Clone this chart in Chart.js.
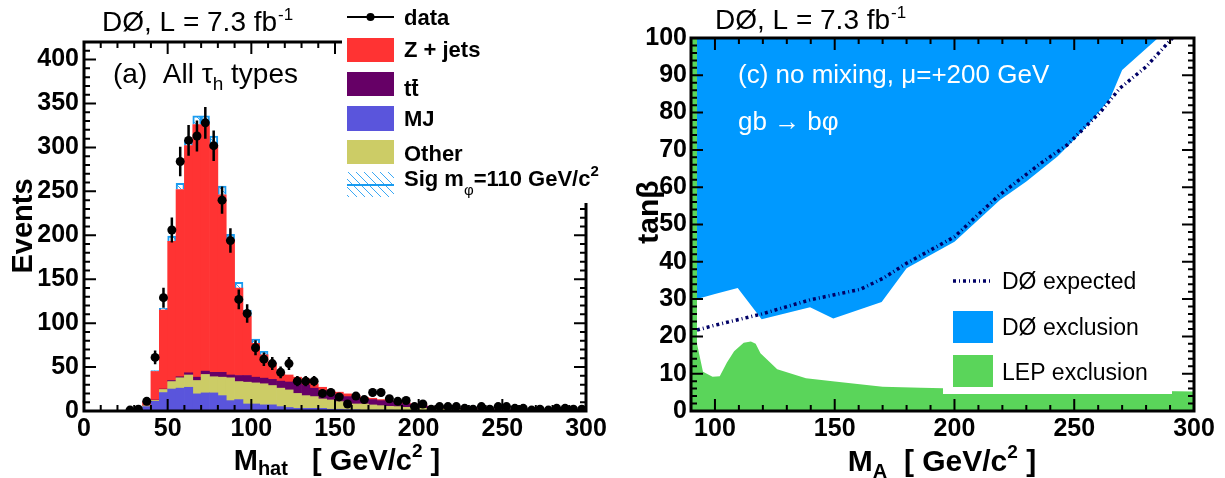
<!DOCTYPE html>
<html><head><meta charset="utf-8">
<script src="https://cdn.jsdelivr.net/npm/chart.js@4.4.0/dist/chart.umd.min.js"></script>
<style>
html,body{margin:0;padding:0;background:#fff;width:1225px;height:478px;overflow:hidden}
canvas{position:absolute;top:0}
#c1{left:0}
#c2{left:612px}
</style></head><body>
<canvas id="c1" width="612" height="478"></canvas>
<canvas id="c2" width="613" height="478"></canvas>
<script>
// ================= LEFT PANEL DATA (M_hat histogram, 5 GeV bins) =================
const binCenters = [2.5,7.5,12.5,17.5,22.5,27.5,32.5,37.5,42.5,47.5,52.5,57.5,62.5,67.5,72.5,77.5,82.5,87.5,92.5,97.5,
  102.5,107.5,112.5,117.5,122.5,127.5,132.5,137.5,142.5,147.5,152.5,157.5,162.5,167.5,172.5,177.5,182.5,187.5,192.5,197.5,
  202.5,207.5,212.5,217.5,222.5,227.5,232.5,237.5,242.5,247.5,252.5,257.5,262.5,267.5,272.5,277.5,282.5,287.5,292.5,297.5];
const mjEvents = [null,null,null,null,null,null,null,5,11,21,25,26,27,19.5,20.6,20.6,17.5,11.8,13,8,
  8,7,7,5,4,3,3,3,3,2,2,1.5,1.5,1,1,1,1,0.8,0.8,0.6,
  0.5,0.5,0.4,0.4,0.3,0.3,0.3,0.2,0.2,0.2,0.2,0.1,0.1,0.1,0.1,0.1,0.1,0.1,0.1,0.1];
const otherEvents = [null,null,null,null,null,null,null,1,1,3.5,8.5,11.8,14,15.2,21,18.4,21,26,20.5,24.8,
  24,24,22,21,20,17,14.5,13.4,10.7,10.6,8.7,7.7,6.5,7,5.9,5.1,4.3,4.2,3.4,2.8,
  2.5,2.2,1.9,1.6,1.5,1.3,1.1,1.0,0.9,0.8,0.7,0.7,0.6,0.5,0.5,0.4,0.4,0.3,0.3,0.3];
const ttbarEvents = [null,null,null,null,null,null,null,0,0.5,0.5,1.2,1.2,2.5,3.8,3.8,5,5.5,3.2,6.9,7.6,
  6.5,6.4,7,8,9,12,12.2,9.6,9.3,7.4,7.6,7.2,6.9,5.7,6.1,5.7,5.4,4.2,3.8,3.5,
  3.1,2.3,1.9,1.6,1.4,1.3,1.2,1.1,1.0,0.9,0.8,0.7,0.7,0.7,0.6,0.6,0.5,0.5,0.4,0.4];
const zjetsEvents = [null,null,null,null,null,null,null,4,32.5,90,158.3,213,258.5,287.5,280.6,258,202,154,99.6,67.6,
  38.5,26.6,18,9,8,6.5,6.9,5,4,3,3.1,3.1,2.6,1.9,1.5,1.2,1.1,1.5,1.2,1.1,
  0.8,0.3,0.4,0.4,0.4,0.3,0.3,0.3,0.3,0.3,0.3,0.3,0.2,0.2,0.2,0.2,0.2,0.2,0.2,0.2];
const signalEvents = [null,null,null,null,null,null,null,null,1,2,6,7,6,10,10,11,10,6,6.5,7,
  5,4,1,null,null,null,null,null,null,null,null,null,null,null,null,null,null,null,null,null,
  null,null,null,null,null,null,null,null,null,null,null,null,null,null,null,null,null,null,null,null];
const dataEvents = [null,null,null,null,null,1,2,11,61,129,206,284,308,313,328,302,240,194,127,111,
  72,59,54,44,54,34,34,34,20,21,16,8,17,13,21,21,14,11,12,5,
  8,2,5,5,5,3,2,5,2,5,5,3,3,1,2,1,3,3,2,2];
const leftXTicks = [0,50,100,150,200,250,300];
const leftYTicks = [0,50,100,150,200,250,300,350,400];

// ================= RIGHT PANEL DATA (M_A vs tan beta) =================
const obsMA   = [92.5,100,109.5,119.5,139.7,149.4,169.6,180,200,219,230,243,250,257,265,270,285];
const obsTanb = [30,31.4,33,24.6,27.8,24.8,29.2,38.3,45.4,56.6,61.5,68.2,72.7,77.6,83.8,91.4,100];
const expMA   = [92.5,100,119.5,139.7,149.4,160.6,170.3,180,200,218,236,247,261,269,280,291];
const expTanb = [21.7,23,26,29.8,31.1,32.6,35.6,39.6,46.7,57.5,66.4,71.3,80.2,86.5,92.3,100];
const lepMA   = [90,92.5,92.5,95,99,102,105,108,112,115,117,119,126,138,150,170,186,200,250,300];
const lepTanb = [100,100,18,10.5,9.2,9.3,13,16,18.3,18.6,18,15.5,11.2,8.8,7.9,6.5,6.2,6,5.7,5.2];
const rightXTicks = [100,150,200,250,300];
const rightYTicks = [0,10,20,30,40,50,60,70,80,90,100];

// ================= helpers =================
const FONT = "'Liberation Sans', Arial, Helvetica, sans-serif";
const fnt = (size, weight) => `${weight || 'normal'} ${size}px ${FONT}`;
const toXY = (xs, ys) => xs.map((x, i) => ({x: x, y: ys[i]}));
const EXP_DASH = [3, 3, 1, 3];

function richText(ctx, x, y, parts, align) {
  let total = 0;
  parts.forEach(p => { ctx.font = fnt(p.size, p.weight); p.w = ctx.measureText(p.t).width; total += p.w; });
  let cx = align === 'center' ? x - total / 2 : x;
  ctx.textAlign = 'left';
  ctx.textBaseline = 'alphabetic';
  parts.forEach(p => { ctx.font = fnt(p.size, p.weight); ctx.fillText(p.t, cx, y + (p.dy || 0)); cx += p.w; });
}

function header(ctx, x, base) {
  ctx.fillStyle = '#000';
  ctx.textAlign = 'left'; ctx.textBaseline = 'alphabetic';
  ctx.font = fnt(28);
  const s = 'DØ, L = 7.3 fb';
  ctx.fillText(s, x, base);
  const w = ctx.measureText(s).width;
  ctx.font = fnt(17);
  ctx.fillText('-1', x + w + 1, base - 11);
}

function frameTicks(chart, o) {
  const {ctx, chartArea: a, scales: {x, y}} = chart;
  ctx.save();
  ctx.strokeStyle = '#000';
  ctx.lineWidth = 2;
  ctx.beginPath();
  for (let v = o.x0; v <= x.max + 1e-9; v += o.xMinor) {
    const r = v / o.xMajor;
    const L = Math.abs(r - Math.round(r)) < 1e-6 ? o.major : o.minor;
    const px = x.getPixelForValue(v);
    ctx.moveTo(px, a.bottom); ctx.lineTo(px, a.bottom - L);
    ctx.moveTo(px, a.top); ctx.lineTo(px, a.top + L);
  }
  for (let v = o.y0; v <= y.max + 1e-9; v += o.yMinor) {
    const r = v / o.yMajor;
    const L = Math.abs(r - Math.round(r)) < 1e-6 ? o.major : o.minor;
    const py = y.getPixelForValue(v);
    ctx.moveTo(a.left, py); ctx.lineTo(a.left + L, py);
    ctx.moveTo(a.right, py); ctx.lineTo(a.right - L, py);
  }
  ctx.stroke();
  ctx.lineWidth = 3;
  ctx.strokeRect(a.left, a.top, a.right - a.left, a.bottom - a.top);
  ctx.restore();
}

const tickFont = {family: FONT, size: 25, weight: 'bold'};

// ================= LEFT CHART =================
const c1 = document.getElementById('c1');
const g1 = c1.getContext('2d');
const hatchCanvas = document.createElement('canvas');
hatchCanvas.width = 8; hatchCanvas.height = 8;
(function () {
  const h = hatchCanvas.getContext('2d');
  h.fillStyle = '#fff'; h.fillRect(0, 0, 8, 8);
  h.strokeStyle = '#3aa8f5'; h.lineWidth = 1;
  h.beginPath();
  h.moveTo(-4, -4); h.lineTo(12, 12);
  h.moveTo(-4, 4); h.lineTo(4, 12);
  h.moveTo(4, -4); h.lineTo(12, 4);
  h.stroke();
})();
const hatch = g1.createPattern(hatchCanvas, 'repeat');

const barDs = (label, arr, color, extra) => Object.assign({
  type: 'bar', label: label, data: toXY(binCenters, arr), backgroundColor: color,
  borderWidth: 0, stack: 'mc', barPercentage: 1, categoryPercentage: 1
}, extra || {});

const leftDeco = {
  id: 'leftDeco',
  afterDatasetsDraw(chart) {
    const {ctx, scales: {x, y}} = chart;
    ctx.save();
    ctx.strokeStyle = '#000'; ctx.lineWidth = 2.5;
    ctx.beginPath();
    binCenters.forEach((c, i) => {
      const v = dataEvents[i];
      if (v === null) return;
      const e = Math.sqrt(v);
      const px = x.getPixelForValue(c);
      ctx.moveTo(px, y.getPixelForValue(Math.max(v - e, 0)));
      ctx.lineTo(px, y.getPixelForValue(v + e));
    });
    ctx.stroke();
    ctx.restore();
  },
  afterDraw(chart) {
    const ctx = chart.ctx;
    frameTicks(chart, {x0: 0, xMinor: 10, xMajor: 50, y0: 0, yMinor: 10, yMajor: 50, major: 12, minor: 6});
    ctx.save();
    // legend box
    ctx.fillStyle = '#fff';
    ctx.fillRect(342, 0, 270, 203);
    const sx = 347, sw = 47, tx = 404;
    // data
    ctx.strokeStyle = '#000'; ctx.lineWidth = 2;
    ctx.beginPath(); ctx.moveTo(sx, 17); ctx.lineTo(sx + sw, 17); ctx.stroke();
    ctx.fillStyle = '#000'; ctx.beginPath(); ctx.arc(sx + sw / 2, 17, 4, 0, Math.PI * 2); ctx.fill();
    // boxes
    ctx.fillStyle = '#ff3333'; ctx.fillRect(sx, 38, sw, 24);
    ctx.fillStyle = '#660066'; ctx.fillRect(sx, 72, sw, 24);
    ctx.fillStyle = '#5a55dc'; ctx.fillRect(sx, 106, sw, 25);
    ctx.fillStyle = '#cccc66'; ctx.fillRect(sx, 140, sw, 24);
    ctx.fillStyle = hatch; ctx.fillRect(sx, 172, sw, 25);
    ctx.strokeStyle = '#1a9cf0'; ctx.lineWidth = 2;
    ctx.beginPath(); ctx.moveTo(sx, 185); ctx.lineTo(sx + sw, 185); ctx.stroke();
    // legend texts
    ctx.fillStyle = '#000'; ctx.textAlign = 'left'; ctx.textBaseline = 'alphabetic';
    ctx.font = fnt(22, 'bold');
    ctx.fillText('data', tx, 25);
    ctx.fillText('Z + jets', tx, 57);
    ctx.fillText('tt', tx, 96);
    const wt = ctx.measureText('t').width;
    ctx.lineWidth = 2; ctx.strokeStyle = '#000';
    ctx.beginPath(); ctx.moveTo(tx + wt + 1, 80); ctx.lineTo(tx + 2 * wt - 1, 80); ctx.stroke();
    ctx.fillText('MJ', tx, 126);
    ctx.fillText('Other', tx, 161);
    richText(ctx, tx, 186, [
      {t: 'Sig m', size: 22, weight: 'bold'},
      {t: 'φ', size: 15, dy: 9},
      {t: '=110 GeV/c', size: 22, weight: 'bold'},
      {t: '2', size: 15, weight: 'bold', dy: -10},
    ]);
    // header and annotation
    header(ctx, 102, 31);
    richText(ctx, 113, 83, [
      {t: '(a)  All ', size: 28},
      {t: 'τ', size: 28},
      {t: 'h', size: 19, dy: 7},
      {t: ' types', size: 28},
    ]);
    // axis titles
    ctx.save();
    ctx.translate(24, 226); ctx.rotate(-Math.PI / 2);
    ctx.font = fnt(29, 'bold'); ctx.textAlign = 'center'; ctx.textBaseline = 'middle';
    ctx.fillText('Events', 0, 0);
    ctx.restore();
    richText(ctx, 337, 470, [
      {t: 'M', size: 29, weight: 'bold'},
      {t: 'hat', size: 20, weight: 'bold', dy: 5},
      {t: '   [ GeV/c', size: 29, weight: 'bold'},
      {t: '2', size: 19, weight: 'bold', dy: -13},
      {t: ' ]', size: 29, weight: 'bold'},
    ], 'center');
    ctx.restore();
  }
};

new Chart(c1, {
  type: 'bar',
  data: {
    datasets: [
      {type: 'scatter', label: 'data', data: toXY(binCenters, dataEvents).filter(p => p.y !== null),
       pointRadius: 4.5, pointBackgroundColor: '#000', pointBorderWidth: 0, showLine: false, stack: 'data', order: -1},
      barDs('MJ', mjEvents, '#5a55dc'),
      barDs('Other', otherEvents, '#cccc66'),
      barDs('tt', ttbarEvents, '#660066'),
      barDs('Z + jets', zjetsEvents, '#ff3333'),
      barDs('Sig', signalEvents, hatch, {borderWidth: 2, borderColor: '#1a9cf0'}),
    ]
  },
  options: {
    responsive: false, animation: false, devicePixelRatio: 1, events: [],
    layout: {padding: {top: 42, right: 26, left: 0, bottom: 0}},
    plugins: {legend: {display: false}, tooltip: {enabled: false}},
    scales: {
      x: {type: 'linear', min: 0, max: 300, stacked: true, offset: false,
          grid: {display: false, drawTicks: false}, border: {display: false},
          ticks: {font: tickFont, color: '#000', padding: 3, maxRotation: 0, autoSkip: false},
          afterBuildTicks: s => { s.ticks = leftXTicks.map(v => ({value: v})); },
          afterFit: s => { s.height = 67; }},
      y: {type: 'linear', min: 0, max: 420, stacked: true,
          grid: {display: false, drawTicks: false}, border: {display: false},
          ticks: {font: tickFont, color: '#000', padding: 5, autoSkip: false},
          afterBuildTicks: s => { s.ticks = leftYTicks.map(v => ({value: v})); },
          afterFit: s => { s.width = 84; }}
    }
  },
  plugins: [leftDeco]
});

// ================= RIGHT CHART =================
const c2 = document.getElementById('c2');
const rightDeco = {
  id: 'rightDeco',
  afterDraw(chart) {
    const ctx = chart.ctx;
    frameTicks(chart, {x0: 90, xMinor: 10, xMajor: 50, y0: 0, yMinor: 2, yMajor: 10, major: 12, minor: 6});
    ctx.save();
    // legend box
    ctx.fillStyle = '#fff';
    ctx.fillRect(331, 258, 229, 136);
    // expected sample
    ctx.strokeStyle = '#000066'; ctx.lineWidth = 3.5; ctx.setLineDash(EXP_DASH);
    ctx.beginPath(); ctx.moveTo(341, 281); ctx.lineTo(378, 281); ctx.stroke();
    ctx.setLineDash([]);
    ctx.fillStyle = '#0099ff'; ctx.fillRect(341, 311, 40, 32);
    ctx.fillStyle = '#5ad55a'; ctx.fillRect(341, 355, 40, 32);
    ctx.fillStyle = '#000'; ctx.font = fnt(23); ctx.textAlign = 'left'; ctx.textBaseline = 'alphabetic';
    ctx.fillText('DØ expected', 390, 289);
    ctx.fillText('DØ exclusion', 390, 335);
    ctx.fillText('LEP exclusion', 390, 380);
    // header
    header(ctx, 103, 29);
    // annotations
    ctx.fillStyle = '#fff'; ctx.font = fnt(26);
    ctx.fillText('(c) no mixing, μ=+200 GeV', 126, 83);
    ctx.fillText('gb → bφ', 126, 130);
    // axis titles
    ctx.fillStyle = '#000';
    ctx.save();
    ctx.translate(38, 212); ctx.rotate(-Math.PI / 2);
    ctx.font = fnt(30, 'bold'); ctx.textAlign = 'center'; ctx.textBaseline = 'middle';
    ctx.fillText('tanβ', 0, 0);
    ctx.restore();
    richText(ctx, 330, 471, [
      {t: 'M', size: 30, weight: 'bold'},
      {t: 'A', size: 20, weight: 'bold', dy: 7},
      {t: '  [ GeV/c', size: 30, weight: 'bold'},
      {t: '2', size: 19, weight: 'bold', dy: -13},
      {t: ' ]', size: 30, weight: 'bold'},
    ], 'center');
    ctx.restore();
  }
};

new Chart(c2, {
  type: 'line',
  data: {
    datasets: [
      {label: 'DØ expected', data: toXY(expMA, expTanb), borderColor: '#000066', borderWidth: 3.5,
       borderDash: EXP_DASH, pointRadius: 0, fill: false, order: -1},
      {label: 'LEP exclusion', data: toXY(lepMA, lepTanb), backgroundColor: '#5ad55a', borderColor: 'rgba(0,0,0,0)',
       borderWidth: 0, pointRadius: 0, fill: 'origin', order: 0},
      {label: 'DØ exclusion', data: toXY(obsMA, obsTanb), backgroundColor: '#0099ff', borderColor: 'rgba(0,0,0,0)',
       borderWidth: 0, pointRadius: 0, fill: 'end', order: 1},
    ]
  },
  options: {
    responsive: false, animation: false, devicePixelRatio: 1, events: [],
    layout: {padding: {top: 38, right: 31, left: 0, bottom: 0}},
    plugins: {legend: {display: false}, tooltip: {enabled: false}},
    scales: {
      x: {type: 'linear', min: 90, max: 300,
          grid: {display: false, drawTicks: false}, border: {display: false},
          ticks: {font: tickFont, color: '#000', padding: 3, maxRotation: 0, autoSkip: false},
          afterBuildTicks: s => { s.ticks = rightXTicks.map(v => ({value: v})); },
          afterFit: s => { s.height = 67; }},
      y: {type: 'linear', min: 0, max: 100,
          grid: {display: false, drawTicks: false}, border: {display: false},
          ticks: {font: tickFont, color: '#000', padding: 4, autoSkip: false},
          afterBuildTicks: s => { s.ticks = rightYTicks.map(v => ({value: v})); },
          afterFit: s => { s.width = 79; }}
    }
  },
  plugins: [rightDeco]
});
</script>
</body></html>
